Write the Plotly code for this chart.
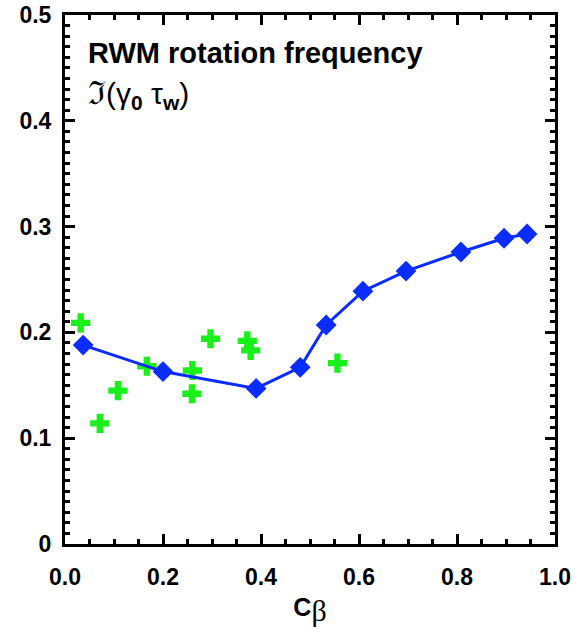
import plotly.graph_objects as go

# Blue series (model): C_beta vs Im(gamma0 tau_w)
model_x = [0.037, 0.200, 0.390, 0.480, 0.533, 0.608, 0.696, 0.808, 0.896, 0.943]
model_y = [0.188, 0.163, 0.147, 0.167, 0.207, 0.239, 0.258, 0.276, 0.289, 0.293]

# Green crosses (experimental points)
exp_x = [0.032, 0.071, 0.108, 0.167, 0.260, 0.259, 0.297, 0.372, 0.379, 0.556]
exp_y = [0.209, 0.114, 0.145, 0.168, 0.164, 0.142, 0.194, 0.192, 0.183, 0.171]

x_ticks = [0.0, 0.2, 0.4, 0.6, 0.8, 1.0]
x_tick_labels = ["0.0", "0.2", "0.4", "0.6", "0.8", "1.0"]
y_ticks = [0.0, 0.1, 0.2, 0.3, 0.4, 0.5]
y_tick_labels = ["0", "0.1", "0.2", "0.3", "0.4", "0.5"]

FONT = "Liberation Sans"

fig = go.Figure()
fig.add_trace(go.Scatter(
    x=exp_x, y=exp_y, mode="markers",
    marker=dict(symbol="cross", size=16, color="#19f019", line=dict(width=0)),
    showlegend=False,
))
fig.add_trace(go.Scatter(
    x=model_x, y=model_y, mode="lines+markers",
    line=dict(color="#0a2cff", width=3),
    marker=dict(symbol="diamond", size=16, color="#0a2cff", line=dict(width=0)),
    showlegend=False,
))

axis_common = dict(
    showline=True, linecolor="black", linewidth=3, mirror="allticks",
    ticks="inside", ticklen=10, tickwidth=2.5, tickcolor="black",
    showgrid=False, zeroline=False, automargin=False,
    tickfont=dict(family=FONT, size=23, color="black", weight="bold"),
)

fig.update_xaxes(
    range=[0, 1], tickvals=x_ticks, ticktext=x_tick_labels,
    minor=dict(dtick=0.05, ticks="inside", ticklen=5, tickwidth=2.5, tickcolor="black"),
    ticklabelstandoff=10,
    title=dict(
        text="<b>C</b><sub><span style='font-family:Liberation Serif;font-size:30px'>β</span></sub>",
        font=dict(family=FONT, size=25, color="black"), standoff=10),
    **axis_common,
)
fig.update_yaxes(
    range=[0, 0.5], tickvals=y_ticks, ticktext=y_tick_labels,
    minor=dict(dtick=0.01, ticks="inside", ticklen=5, tickwidth=2.5, tickcolor="black"),
    ticklabelstandoff=6,
    **axis_common,
)

fig.add_annotation(
    xref="paper", yref="paper", x=0.043, y=0.928, xanchor="left", yanchor="middle",
    text="<b>RWM rotation frequency</b>", showarrow=False,
    font=dict(family=FONT, size=29, color="black"),
)
fig.add_annotation(
    xref="paper", yref="paper", x=0.043, y=0.850, xanchor="left", yanchor="middle",
    text="<span style='font-family:DejaVu Serif;font-size:32px'>ℑ</span>(γ<sub><b>0</b></sub> τ<sub><b>w</b></sub>)",
    showarrow=False,
    font=dict(family=FONT, size=30, color="black"),
)

fig.update_layout(
    width=575, height=635,
    margin=dict(l=65, r=20, t=15, b=91),
    paper_bgcolor="white", plot_bgcolor="white",
)

fig.write_html("out.html")
